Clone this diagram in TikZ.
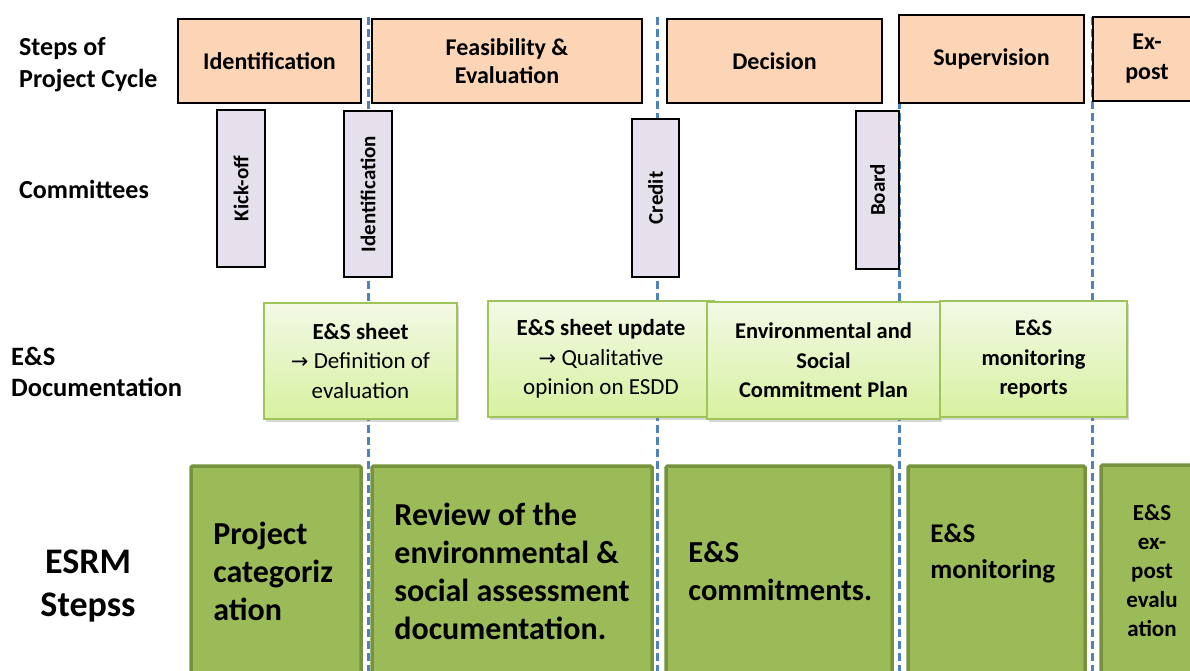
\documentclass[tikz,border=0pt]{standalone}
\usepackage{fontspec}
\setmainfont{Carlito}
\newfontfamily\arrowfont{DejaVu Sans}
\usetikzlibrary{shadows}
\definecolor{stepfill}{HTML}{FBD5B5}
\definecolor{comfill}{HTML}{E5E0EC}
\definecolor{doctop}{HTML}{F3F9E6}
\definecolor{docbot}{HTML}{D7F1A0}
\definecolor{docline}{HTML}{9EC45A}
\definecolor{esrmfill}{HTML}{9BBB59}
\definecolor{esrmline}{HTML}{76923C}
\definecolor{divcolor}{HTML}{4F81BD}
\tikzset{
stepbox/.style={draw=black,line width=1.6pt,fill=stepfill,inner sep=0pt,align=center,font=\fontsize{24}{28}\selectfont\bfseries},
combox/.style={draw=black,line width=1.6pt,fill=comfill,inner sep=0pt,rotate=90,font=\fontsize{21}{25}\selectfont\bfseries},
docbox/.style={draw=docline,line width=1.6pt,top color=doctop,bottom color=docbot,inner sep=0pt,align=center,font=\fontsize{23}{29.5}\selectfont,drop shadow={shadow xshift=2pt,shadow yshift=-3pt,opacity=.3}},
esrmbox/.style={draw=esrmline,line width=3.5pt,fill=esrmfill,inner sep=0pt,rounded corners=1.5pt},
esrmtext/.style={anchor=west,align=left,inner sep=0pt,font=\fontsize{32}{38}\selectfont\bfseries},
rowlabel/.style={anchor=west,align=left,inner sep=0pt,font=\fontsize{26}{32}\selectfont\bfseries},
divider/.style={divcolor,line width=3pt,dash pattern=on 8pt off 4pt}
}
\newcommand{\docarrow}{{\arrowfont\fontsize{21}{29.5}\selectfont →}}
\begin{document}
\begin{tikzpicture}[x=1pt,y=-1pt]
\clip(0,0)rectangle(1190,671);
\fill[white](0,0)rectangle(1190,671);
% phase dividers
\foreach \x in {368,657,899,1092}\draw[divider](\x,17)--(\x,671);
% row labels
\node[rowlabel](lstep)at(19,65){Steps of\\Project Cycle};
\node[rowlabel](lcom)at(19,189){Committees};
\node[rowlabel,font=\fontsize{26.5}{31}\selectfont\bfseries](ldoc)at(11,372){E\&S\\Documentation};
\node[align=center,inner sep=0pt,font=\fontsize{36}{43}\selectfont\bfseries](lesrm)at(88,586){ESRM\\Stepss};
% steps of project cycle
\node[stepbox,minimum width=183pt,minimum height=84pt](sidf)at(269.5,61){Identification};
\node[stepbox,minimum width=270pt,minimum height=84pt](sfea)at(507,61){Feasibility \&\\Evaluation};
\node[stepbox,minimum width=215pt,minimum height=84pt](sdec)at(774.5,61){Decision};
\node[stepbox,minimum width=185pt,minimum height=88pt](ssup)at(991.5,59){Supervision};
\node[stepbox,minimum width=108pt,minimum height=84pt,font=\fontsize{24}{30}\selectfont\bfseries](sexp)at(1147,59){Ex-\\post};
% committees
\node[combox,minimum width=157pt,minimum height=48pt](ckick)at(241,188.5){Kick-off};
\node[combox,minimum width=166pt,minimum height=48pt](cidf)at(368,194){Identification};
\node[combox,minimum width=158pt,minimum height=47pt](ccre)at(655.5,198){Credit};
\node[combox,minimum width=158pt,minimum height=43pt](cbrd)at(877.5,190){Board};
% E&S documentation
\node[docbox,minimum width=193pt,minimum height=116pt](dsheet)at(360.5,361){\textbf{E\&S sheet}\\\docarrow{} Definition of\\evaluation};
\node[docbox,minimum width=226pt,minimum height=116pt](dupd)at(601,359){\textbf{E\&S sheet update}\\\docarrow{} Qualitative\\opinion on ESDD};
\node[docbox,minimum width=233pt,minimum height=117pt,font=\fontsize{22.5}{29.5}\selectfont\bfseries](dplan)at(823.5,360.5){Environmental and\\Social\\Commitment Plan};
\node[docbox,minimum width=187pt,minimum height=116pt,font=\fontsize{22.5}{29.5}\selectfont\bfseries](drep)at(1033.5,359){E\&S\\monitoring\\reports};
% ESRM steps
\node[esrmbox,minimum width=170pt,minimum height=210pt](ecat)at(276,571){};
\node[esrmtext](tcat)at([xshift=24pt]ecat.west){Project\\categoriz\\ation};
\node[esrmbox,minimum width=280pt,minimum height=210pt](erev)at(512,571){};
\node[esrmtext](trev)at([xshift=24pt]erev.west){Review of the\\environmental \&\\social assessment\\documentation.};
\node[esrmbox,minimum width=226pt,minimum height=210pt](ecom)at(779,571){};
\node[esrmtext,font=\fontsize{30.5}{38}\selectfont\bfseries](tcom)at([xshift=24pt]ecom.west){E\&S\\commitments.};
\node[esrmbox,minimum width=177pt,minimum height=210pt](emon)at(996.5,571){};
\node[esrmtext,font=\fontsize{27}{36}\selectfont\bfseries](tmon)at([xshift=24pt,yshift=18pt]emon.west){E\&S\\monitoring};
\node[esrmbox,minimum width=102pt,minimum height=212pt,align=center,font=\fontsize{23}{29}\selectfont\bfseries](eexp)at(1152,571){E\&S\\ex-\\post\\evalu\\ation};
\end{tikzpicture}
\end{document}
